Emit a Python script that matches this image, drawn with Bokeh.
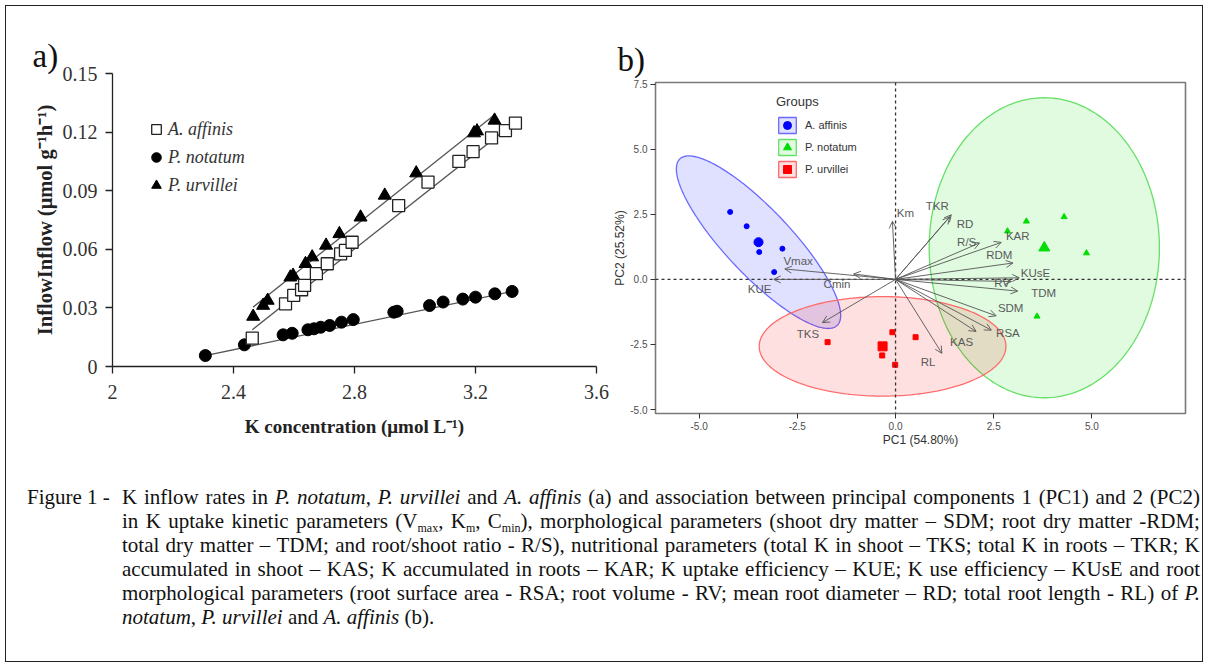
import numpy as np
from bokeh.plotting import figure
from bokeh.models import (ColumnDataSource, Legend, LegendItem, LabelSet, Span,
                          Arrow, OpenHead, FixedTicker, Div)
from bokeh.embed import file_html
from bokeh.resources import INLINE
from bokeh.core.properties import value

# ---------------- Panel a) data ----------------
aff_k = [2.462, 2.572, 2.599, 2.625, 2.635, 2.674, 2.710, 2.754, 2.770, 2.792,
         2.946, 3.043, 3.145, 3.192, 3.253, 3.299, 3.332]
aff_inflow = [0.0145, 0.0321, 0.0364, 0.0393, 0.0415, 0.0475, 0.0526, 0.0577, 0.0594, 0.0636,
              0.0824, 0.0944, 0.1050, 0.1100, 0.1170, 0.1208, 0.1246]
not_k = [2.307, 2.436, 2.564, 2.594, 2.646, 2.666, 2.688, 2.718, 2.757, 2.796,
         2.930, 2.941, 3.048, 3.093, 3.158, 3.200, 3.264, 3.321]
not_inflow = [0.0056, 0.0111, 0.0162, 0.0170, 0.0188, 0.0193, 0.0201, 0.0210, 0.0227, 0.0240,
              0.0278, 0.0283, 0.0312, 0.0330, 0.0345, 0.0355, 0.0372, 0.0384]
urv_k = [2.465, 2.498, 2.513, 2.588, 2.597, 2.638, 2.660, 2.706, 2.750, 2.820,
         2.900, 3.004, 3.195, 3.205, 3.263]
urv_inflow = [0.0256, 0.0312, 0.0338, 0.0457, 0.0466, 0.0526, 0.0560, 0.0620, 0.0679, 0.0764,
              0.0876, 0.0990, 0.1195, 0.1205, 0.1260]
# fitted trend lines (end points)
aff_fit_k = [2.462, 3.338]
aff_fit = [0.0188, 0.1260]
not_fit_k = [2.307, 3.321]
not_fit = [0.0056, 0.0384]
urv_fit_k = [2.465, 3.260]
urv_fit = [0.0304, 0.1285]

x_ticks_a = [2.0, 2.4, 2.8, 3.2, 3.6]
x_labels_a = ["2", "2.4", "2.8", "3.2", "3.6"]
y_ticks_a = [0.0, 0.03, 0.06, 0.09, 0.12, 0.15]
y_labels_a = ["0", "0.03", "0.06", "0.09", "0.12", "0.15"]

# ---------------- Panel b) data ----------------
groups = ["A. affinis", "P. notatum", "P. urvillei"]
aff_pc1 = [-4.21, -3.79, -3.47, -2.88, -3.09]
aff_pc2 = [2.59, 2.04, 1.05, 1.18, 0.28]
not_pc1 = [2.85, 3.33, 4.29, 4.86, 3.60]
not_pc2 = [1.85, 2.23, 2.40, 1.01, -1.42]
urv_pc1 = [-1.73, -0.34, -0.08, -0.01, 0.51]
urv_pc2 = [-2.41, -2.92, -2.03, -3.28, -2.22]
# ellipse semi-axis vectors (PC units)
aff_ell_major = [2.00, -3.20]
aff_ell_minor = [-0.61, -0.86]
not_ell_major = [2.93, 0.0]
not_ell_minor = [0.0, 5.76]
urv_ell_major = [3.14, 0.0]
urv_ell_minor = [0.0, 1.91]

var_names = ["Km", "TKR", "RD", "R/S", "KAR", "RDM", "KUsE", "RV", "TDM", "SDM",
             "RSA", "KAS", "RL", "TKS", "Vmax", "Cmin", "KUE"]
var_pc1 = [-0.08, 1.42, 1.38, 2.14, 2.69, 2.99, 3.15, 2.95, 3.11, 2.56,
           2.44, 2.05, 1.18, -1.86, -2.82, -1.07, -3.10]
var_pc2 = [2.23, 2.48, 2.40, 1.40, 1.42, 0.63, 0.06, -0.08, -0.45, -1.40,
           -1.95, -2.00, -2.84, -1.66, 0.40, 0.21, 0.00]
lab_pc1 = [0.25, 1.06, 1.77, 1.81, 3.11, 2.64, 3.56, 2.71, 3.77, 2.93,
           2.86, 1.68, 0.83, -2.23, -2.48, -1.49, -3.46]
lab_pc2 = [2.56, 2.81, 2.11, 1.42, 1.65, 0.95, 0.25, -0.13, -0.51, -1.11,
           -2.06, -2.39, -3.16, -2.08, 0.72, -0.19, -0.38]

x_ticks_b = [-5.0, -2.5, 0.0, 2.5, 5.0]
y_ticks_b = [-5.0, -2.5, 0.0, 2.5, 5.0, 7.5]

SERIF = "Liberation Serif"
SANS = "Liberation Sans"

# ================= Figure a =================
pa = figure(width=620, height=460, x_range=(2.0, 3.6), y_range=(0.0, 0.15),
            output_backend="svg", toolbar_location=None,
            min_border_left=112, min_border_right=24, min_border_top=73, min_border_bottom=94,
            styles={"position": "absolute", "left": "0px", "top": "0px"})
pa.outline_line_color = None
pa.grid.visible = False
pa.border_fill_alpha = 0
pa.title.text = "a)"
pa.title.text_font = SERIF
pa.title.text_font_size = "33px"
pa.title.text_font_style = "normal"
pa.title.text_color = "#111111"
pa.title.offset = -80
pa.title.standoff = 0

for ax in (pa.xaxis[0], pa.yaxis[0]):
    ax.axis_line_color = "#222222"
    ax.axis_line_width = 1.3
    ax.major_tick_line_color = "#222222"
    ax.major_tick_line_width = 1.3
    ax.major_tick_out = 7
    ax.major_tick_in = 0
    ax.minor_tick_line_color = None
    ax.major_label_text_font = SERIF
    ax.major_label_text_font_size = "20px"
    ax.major_label_text_color = "#333333"
    ax.axis_label_text_font = SERIF
    ax.axis_label_text_font_style = "bold"
    ax.axis_label_text_color = "#222222"

pa.xaxis.ticker = FixedTicker(ticks=x_ticks_a)
pa.xaxis.major_label_overrides = dict(zip(x_ticks_a, x_labels_a))
pa.yaxis.ticker = FixedTicker(ticks=y_ticks_a)
pa.yaxis.major_label_overrides = dict(zip(y_ticks_a, y_labels_a))
pa.xaxis.axis_label = "K concentration (μmol L⁻¹)"
pa.yaxis.axis_label = "InflowInflow (μmol g⁻¹h⁻¹)"
pa.xaxis.axis_label_text_font_size = "19px"
pa.yaxis.axis_label_text_font_size = "20.5px"
pa.xaxis.major_label_standoff = 11
pa.xaxis.axis_label_standoff = 14
pa.yaxis.major_label_standoff = 8
pa.yaxis.axis_label_standoff = 4

line_col = "#555555"
pa.line(aff_fit_k, aff_fit, line_color=line_col, line_width=1.3)
pa.line(not_fit_k, not_fit, line_color=line_col, line_width=1.3)
pa.line(urv_fit_k, urv_fit, line_color=line_col, line_width=1.3)

r_not = pa.scatter(not_k, not_inflow, marker="circle", size=12, fill_color="black", line_color="black")
r_urv = pa.scatter(urv_k, urv_inflow, marker="triangle", size=13, fill_color="black", line_color="black")
r_aff = pa.scatter(aff_k, aff_inflow, marker="square", size=12, fill_color="white",
                   line_color="#222222", line_width=1.3)

leg_a = Legend(items=[LegendItem(label="A. affinis", renderers=[r_aff]),
                      LegendItem(label="P. notatum", renderers=[r_not]),
                      LegendItem(label="P. urvillei", renderers=[r_urv])],
               location=(32, 167), orientation="vertical",
               glyph_width=24, glyph_height=28, label_height=28, label_standoff=-8,
               spacing=0, padding=0, margin=0,
               border_line_color=None, background_fill_alpha=0,
               label_text_font=SERIF, label_text_font_size="18px",
               label_text_font_style="italic", label_text_color="#333333")
pa.add_layout(leg_a, "center")

# ================= Figure b =================
pb = figure(width=610, height=460, x_range=(-6.11, 7.38), y_range=(-5.15, 7.56),
            output_backend="svg", toolbar_location=None,
            min_border_left=57, min_border_right=23, min_border_top=82, min_border_bottom=47,
            styles={"position": "absolute", "left": "598px", "top": "0px"})
pb.grid.visible = False
pb.border_fill_alpha = 0
pb.outline_line_color = "#7a7a7a"
pb.outline_line_width = 1.6
pb.title.text = "b)"
pb.title.text_font = SERIF
pb.title.text_font_size = "33px"
pb.title.text_font_style = "normal"
pb.title.text_color = "#111111"
pb.title.offset = -38
pb.title.standoff = 10

for ax in (pb.xaxis[0], pb.yaxis[0]):
    ax.axis_line_color = None
    ax.major_tick_line_color = "#333333"
    ax.major_tick_out = 5
    ax.major_tick_in = 0
    ax.minor_tick_line_color = None
    ax.major_label_text_font = SANS
    ax.major_label_text_font_size = "10px"
    ax.major_label_text_color = "#4d4d4d"
    ax.major_label_standoff = 3
    ax.axis_label_text_font = SANS
    ax.axis_label_text_font_size = "12px"
    ax.axis_label_text_font_style = "normal"
    ax.axis_label_text_color = "#333333"
    ax.axis_label_standoff = 0

pb.xaxis.ticker = FixedTicker(ticks=x_ticks_b)
pb.xaxis.major_label_overrides = {t: f"{t:.1f}" for t in x_ticks_b}
pb.yaxis.ticker = FixedTicker(ticks=y_ticks_b)
pb.yaxis.major_label_overrides = {t: f"{t:.1f}" for t in y_ticks_b}
pb.xaxis.axis_label = "PC1 (54.80%)"
pb.yaxis.axis_label = "PC2 (25.52%)"


def ellipse_pts(cx, cy, major, minor, n=240):
    t = np.linspace(0, 2 * np.pi, n)
    return (cx + np.cos(t) * major[0] + np.sin(t) * minor[0],
            cy + np.cos(t) * major[1] + np.sin(t) * minor[1])


grp = [
    (aff_pc1, aff_pc2, aff_ell_major, aff_ell_minor, "#0000ff", "#6a6aff", "circle", 5, 9),
    (not_pc1, not_pc2, not_ell_major, not_ell_minor, "#00dd00", "#66e066", "triangle", 6, 11),
    (urv_pc1, urv_pc2, urv_ell_major, urv_ell_minor, "#ff0000", "#ff6a6a", "square", 5, 9),
]
patch_r, mean_r = [], []
for xs, ys, M, m, col, lcol, mk, s_small, s_big in grp:
    cx, cy = float(np.mean(xs)), float(np.mean(ys))
    ex, ey = ellipse_pts(cx, cy, M, m)
    patch_r.append(pb.patch(ex, ey, fill_color=col, fill_alpha=0.12, line_color=lcol, line_width=1.3))

pb.add_layout(Span(location=0, dimension="height", line_dash="3 3", line_color="#333333", line_width=1.3))
pb.add_layout(Span(location=0, dimension="width", line_dash="3 3", line_color="#333333", line_width=1.3))

arrow_src = ColumnDataSource(dict(x0=[0.0] * len(var_pc1), y0=[0.0] * len(var_pc2),
                                  x1=var_pc1, y1=var_pc2))
pb.add_layout(Arrow(end=OpenHead(size=7, line_color="#555555", line_width=0.9),
                    x_start="x0", y_start="y0", x_end="x1", y_end="y1", source=arrow_src,
                    line_color="#555555", line_width=0.9))

for xs, ys, M, m, col, lcol, mk, s_small, s_big in grp:
    pb.scatter(xs, ys, marker=mk, size=s_small, fill_color=col, line_color=col)
    mean_r.append(pb.scatter([float(np.mean(xs))], [float(np.mean(ys))], marker=mk, size=s_big,
                             fill_color=col, line_color=col))

lab_src = ColumnDataSource(dict(x=lab_pc1, y=lab_pc2, t=var_names))
pb.add_layout(LabelSet(x="x", y="y", text="t", source=lab_src,
                       text_font=value(SANS), text_font_size=value("11.5px"), text_color="#5a5a5a",
                       text_align="center", text_baseline="middle"))

leg_b = Legend(items=[LegendItem(label=g, renderers=[p, mr]) for g, p, mr in zip(groups, patch_r, mean_r)],
               location=(121, 234), orientation="vertical",
               glyph_width=22, glyph_height=20, label_height=20, label_standoff=7,
               spacing=2, padding=0, margin=0,
               title="Groups", title_text_font=SANS, title_text_font_size="13px",
               title_text_font_style="normal", title_text_color="#333333", title_standoff=6,
               border_line_color=None, background_fill_alpha=0,
               label_text_font=SANS, label_text_font_size="11px", label_text_color="#333333")
pb.add_layout(leg_b, "center")

# ================= Caption =================
cap_lines = [
    "K inflow rates in <i>P.</i> <i>notatum</i>, <i>P.</i> <i>urvillei</i> and <i>A.</i> <i>affinis</i> (a) and association between principal components 1 (PC1) and 2 (PC2)",
    "in K uptake kinetic parameters (V<sub>max</sub>, K<sub>m</sub>, C<sub>min</sub>), morphological parameters (shoot dry matter – SDM; root dry matter -RDM;",
    "total dry matter – TDM; and root/shoot ratio - R/S), nutritional parameters (total K in shoot – TKS; total K in roots – TKR; K",
    "accumulated in shoot – KAS; K accumulated in roots – KAR; K uptake efficiency – KUE; K use efficiency – KUsE and root",
    "morphological parameters (root surface area - RSA; root volume - RV; mean root diameter – RD; total root length - RL) of <i>P.</i>",
]
last_line = "<i>notatum</i>, <i>P. urvillei</i> and <i>A. affinis</i> (b)."

sub_css = "font-size:12px;vertical-align:-4px;line-height:0;"
rows_html = ""
for ln in cap_lines:
    words = [w.replace("<sub>", f"<sub style='{sub_css}'>") for w in ln.split(" ")]
    spans = "".join(f"<span>{w}</span>" for w in words)
    rows_html += ("<div style='display:flex;justify-content:space-between;white-space:nowrap;"
                  "height:24px;line-height:24px;width:1078px;'>" + spans + "</div>")
rows_html += f"<div style='height:24px;line-height:24px;white-space:nowrap;'>{last_line}</div>"

cap_html = (f"<div style='position:relative;width:1208px;height:200px;font-family:\"{SERIF}\";"
            "font-size:21px;color:#111111;'>"
            "<div style='position:absolute;left:27px;top:25px;line-height:24px;white-space:nowrap;'>Figure 1 -</div>"
            f"<div style='position:absolute;left:122px;top:25px;'>{rows_html}</div></div>")
cap = Div(text=cap_html, width=1208, height=200, margin=(0, 0, 0, 0),
          styles={"position": "absolute", "left": "0px", "top": "460px"})

frame = Div(text="<div style='width:1198px;height:657px;border:1px solid #222222;box-sizing:border-box;'></div>",
            width=1198, height=657, margin=(0, 0, 0, 0),
            styles={"position": "absolute", "left": "5px", "top": "5px", "pointer-events": "none"})

open("out.html", "w").write(file_html([frame, pa, pb, cap], INLINE))
